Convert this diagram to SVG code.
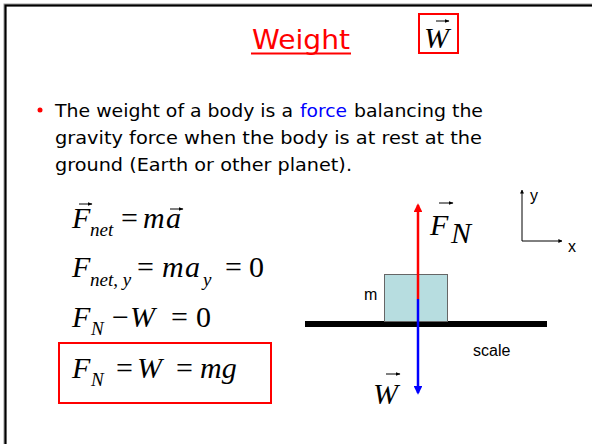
<svg xmlns="http://www.w3.org/2000/svg" width="592" height="444" viewBox="0 0 592 444">
<defs>
<style>
.eq{font-family:"Liberation Serif","Times New Roman",serif;font-style:italic;font-size:30px;fill:#000}
.up{font-style:normal}
.sub{font-size:19px}
.txt{font-family:"DejaVu Sans","Liberation Sans",sans-serif;font-size:18.5px;fill:#000}
.lab{font-family:"Liberation Sans",Arial,sans-serif;font-size:16px;fill:#000}
.vec{stroke:#000;stroke-width:1;fill:none}
</style>
<marker id="ah" viewBox="0 0 10 10" refX="9" refY="5" markerWidth="4" markerHeight="4" orient="auto"><path d="M0,0 L10,5 L0,10 z" fill="#000"/></marker>
<marker id="ahR" viewBox="0 0 10 10" refX="8" refY="5" markerWidth="3.5" markerHeight="3.5" orient="auto"><path d="M0,0 L10,5 L0,10 z" fill="#ff0000"/></marker>
<marker id="ahB" viewBox="0 0 10 10" refX="8" refY="5" markerWidth="3.5" markerHeight="3.5" orient="auto"><path d="M0,0 L10,5 L0,10 z" fill="#0000ff"/></marker>
<marker id="ahs" viewBox="0 0 10 10" refX="9" refY="5" markerWidth="5" markerHeight="5" orient="auto"><path d="M0,1 L10,5 L0,9 z" fill="#000"/></marker>
</defs>
<rect width="592" height="444" fill="#fff"/>
<path d="M5,444 V5 H592" fill="none" stroke="#999" stroke-width="3"/>
<path d="M5.5,444 V5.5 H592" fill="none" stroke="#000" stroke-width="2"/>

<g id="title">
<text x="301" y="49" text-anchor="middle" font-family="DejaVu Sans, Liberation Sans, sans-serif" font-size="27" fill="#ff0000" textLength="98" lengthAdjust="spacingAndGlyphs">Weight</text>
<line x1="251" y1="53.5" x2="351" y2="53.5" stroke="#ff0000" stroke-width="2"/>
</g>
<g id="titleW">
<rect x="419" y="14" width="39" height="39" fill="none" stroke="#ff0000" stroke-width="2"/>
<text x="424" y="48" class="eq">W</text>
<line x1="436" y1="21" x2="449" y2="21" class="vec" marker-end="url(#ahs)"/>
</g>

<g id="bullet">
<circle cx="40" cy="110" r="2.5" fill="#ff0000"/>
<text class="txt" x="55" y="117" textLength="238" lengthAdjust="spacingAndGlyphs">The weight of a body is a</text>
<text class="txt" x="300" y="117" style="fill:#0000ff" textLength="47" lengthAdjust="spacingAndGlyphs">force</text>
<text class="txt" x="354" y="117" textLength="129" lengthAdjust="spacingAndGlyphs">balancing the</text>
<text class="txt" x="55" y="144" textLength="427" lengthAdjust="spacingAndGlyphs">gravity force when the body is at rest at the</text>
<text class="txt" x="55" y="171" textLength="297" lengthAdjust="spacingAndGlyphs">ground (Earth or other planet).</text>
</g>

<g id="eq1">
<text class="eq" x="72" y="228">F</text>
<text class="eq sub" x="90" y="236">net</text>
<text class="eq up" x="121" y="228">=</text>
<text class="eq" x="143" y="228">m</text>
<text class="eq" x="166" y="228">a</text>
<line x1="79" y1="204" x2="92" y2="204" class="vec" marker-end="url(#ahs)"/>
<line x1="170" y1="209" x2="183" y2="209" class="vec" marker-end="url(#ahs)"/>
</g>
<g id="eq2">
<text class="eq" x="72" y="277">F</text>
<text class="eq sub" x="90" y="286">net<tspan class="up">,</tspan> y</text>
<text class="eq up" x="137" y="277">=</text>
<text class="eq" x="162" y="277">m</text>
<text class="eq" x="185" y="277">a</text>
<text class="eq sub" x="203" y="286">y</text>
<text class="eq up" x="225" y="277">=</text>
<text class="eq up" x="249" y="277">0</text>
</g>
<g id="eq3">
<text class="eq" x="72" y="327">F</text>
<text class="eq sub" x="91" y="335">N</text>
<text class="eq up" x="112" y="327">−</text>
<text class="eq" x="130" y="327">W</text>
<text class="eq up" x="171" y="327">=</text>
<text class="eq up" x="196" y="327">0</text>
</g>
<g id="eq4">
<rect x="59" y="343" width="212" height="60" fill="none" stroke="#ff0000" stroke-width="2"/>
<text class="eq" x="72" y="378">F</text>
<text class="eq sub" x="91" y="386">N</text>
<text class="eq up" x="116" y="378">=</text>
<text class="eq" x="137" y="378">W</text>
<text class="eq up" x="176" y="378">=</text>
<text class="eq" x="200" y="378">mg</text>
</g>

<g id="scale">
<rect x="305" y="321" width="242" height="6" fill="#000"/>
<text class="lab" x="473" y="356">scale</text>
</g>
<g id="block">
<rect x="384.5" y="274.5" width="63" height="47" fill="#b7dde0" stroke="#666" stroke-width="1"/>
<text class="lab" x="364" y="300">m</text>
</g>
<g id="axes">
<line x1="522" y1="241" x2="522" y2="190" stroke="#000" stroke-width="1" marker-end="url(#ah)"/>
<line x1="522" y1="241" x2="562" y2="241" stroke="#000" stroke-width="1" marker-end="url(#ah)"/>
<text class="lab" x="530" y="201">y</text>
<text class="lab" x="568" y="252">x</text>
</g>
<g id="connectors">
<line x1="418" y1="299" x2="418" y2="205" stroke="#ff0000" stroke-width="2.5" marker-end="url(#ahR)"/>
<line x1="418" y1="299" x2="418" y2="393" stroke="#0000ff" stroke-width="2.5" marker-end="url(#ahB)"/>
</g>
<g id="FNlabel">
<text class="eq" x="430" y="235" font-size="34">F</text>
<text class="eq" x="451" y="243" font-size="22">N</text>
<line x1="439" y1="203" x2="453" y2="203" class="vec" marker-end="url(#ahs)"/>
</g>
<g id="Wlabel">
<text class="eq" x="373" y="404" font-size="32">W</text>
<line x1="386" y1="374" x2="400" y2="374" class="vec" marker-end="url(#ahs)"/>
</g>
</svg>
